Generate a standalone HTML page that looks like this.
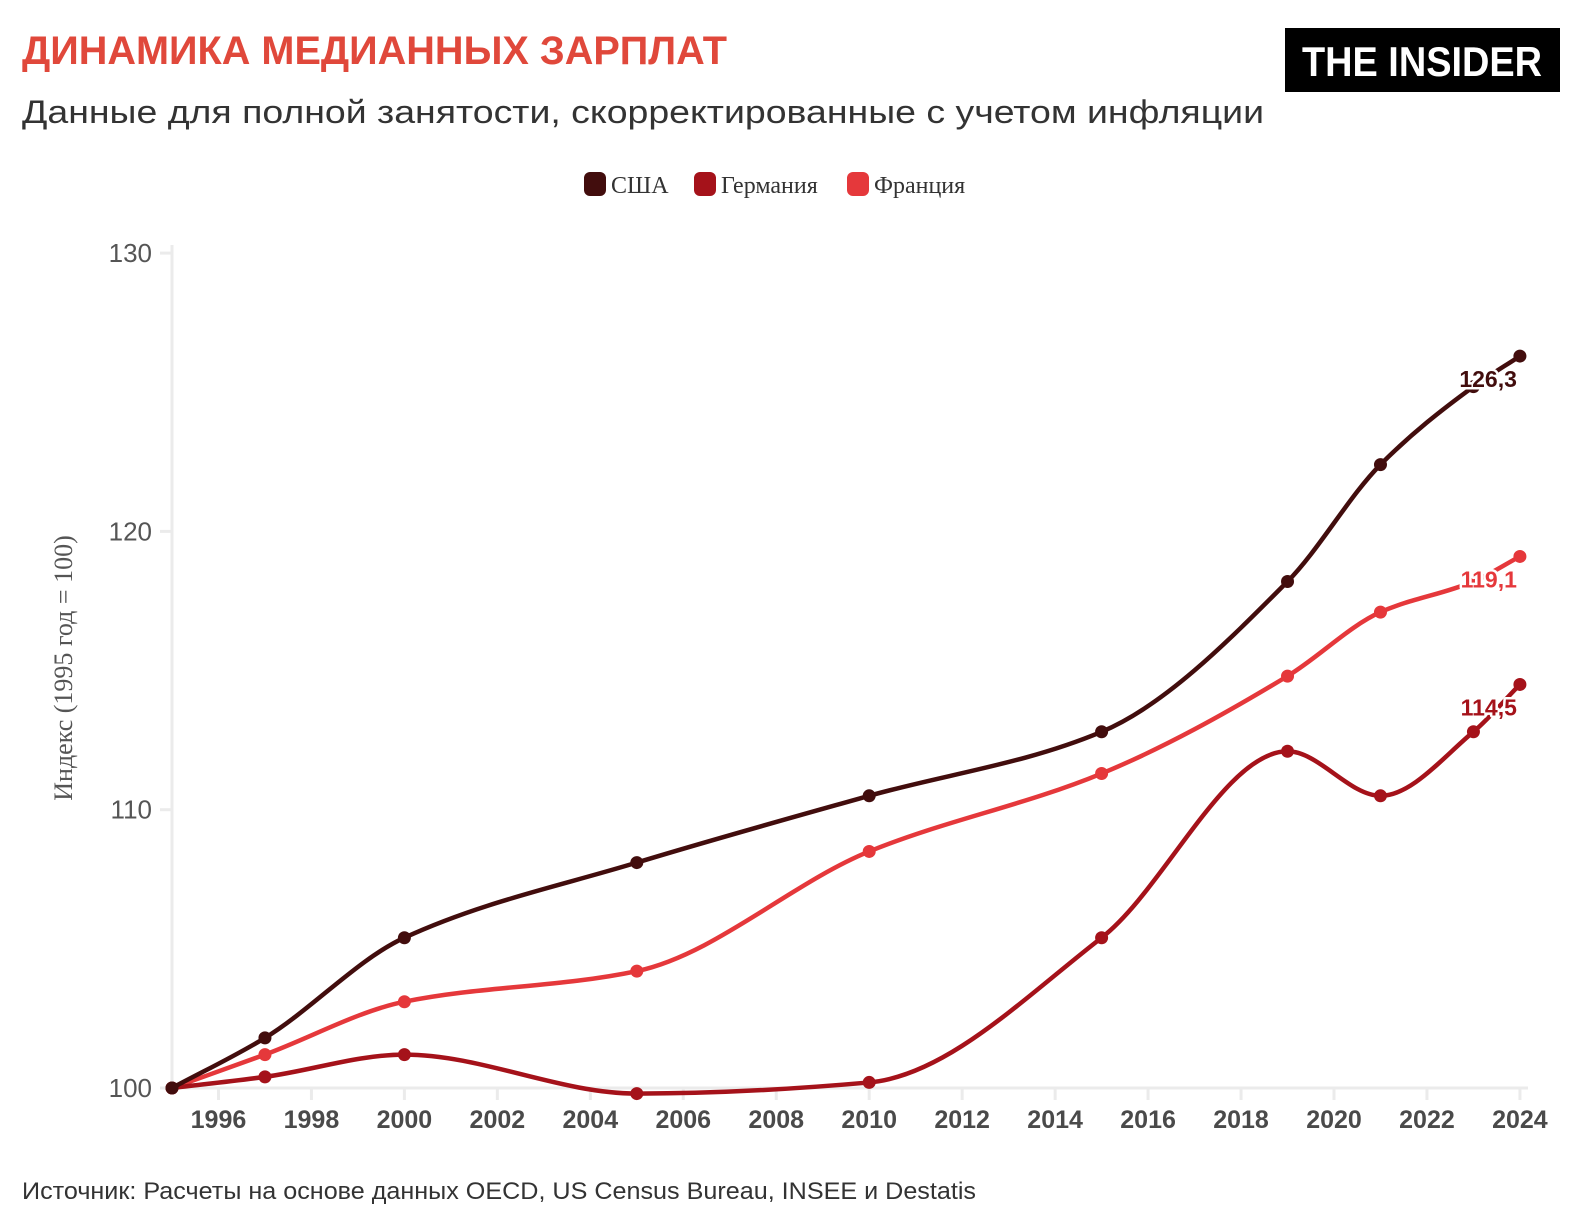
<!DOCTYPE html>
<html><head><meta charset="utf-8"><style>
html,body{margin:0;padding:0;background:#fff;}
svg{display:block;}
.lbl{font-family:"Liberation Sans",sans-serif;font-weight:bold;font-size:23px;paint-order:stroke;stroke:#fff;stroke-width:5px;stroke-linejoin:round;}
</style></head><body>
<svg id="s" width="1588" height="1222" viewBox="0 0 1588 1222" xmlns="http://www.w3.org/2000/svg">
<text x="22" y="64" font-family="Liberation Sans Narrow, Liberation Sans, sans-serif" font-weight="bold" font-size="40" fill="#e0483b" textLength="705" lengthAdjust="spacingAndGlyphs">ДИНАМИКА МЕДИАННЫХ ЗАРПЛАТ</text>
<text x="22" y="123" font-family="Liberation Sans, sans-serif" font-size="32" fill="#333" textLength="1242" lengthAdjust="spacingAndGlyphs">Данные для полной занятости, скорректированные с учетом инфляции</text>
<rect x="1285" y="28" width="275" height="64" fill="#000"/>
<text x="1422" y="76" text-anchor="middle" font-family="Liberation Sans Narrow, Liberation Sans, sans-serif" font-weight="bold" font-size="42" fill="#fff" textLength="240" lengthAdjust="spacingAndGlyphs">THE INSIDER</text>
<rect x="584" y="172" width="22" height="24" rx="6" fill="#420d0d"/>
<text x="611" y="193" font-family="Liberation Serif, serif" font-size="24" fill="#333">США</text>
<rect x="694" y="172" width="22" height="24" rx="6" fill="#a5121a"/>
<text x="721" y="193" font-family="Liberation Serif, serif" font-size="24" fill="#333">Германия</text>
<rect x="847" y="172" width="22" height="24" rx="6" fill="#e5383b"/>
<text x="874" y="193" font-family="Liberation Serif, serif" font-size="24" fill="#333">Франция</text>
<text transform="translate(72,668) rotate(-90)" text-anchor="middle" font-family="Liberation Serif, serif" font-size="26" fill="#555">Индекс (1995 год = 100)</text>
<g id="axes"></g>
<g id="series"></g>
<text x="22" y="1199" font-family="Liberation Sans, sans-serif" font-size="24" fill="#333" textLength="954" lengthAdjust="spacingAndGlyphs">Источник: Расчеты на основе данных OECD, US Census Bureau, INSEE и Destatis</text>
</svg>
<script>
var NS="http://www.w3.org/2000/svg";
function X(y){return 172+(y-1995)*46.48;}
function Y(v){return 1088-(v-100)*27.83;}
function el(t,a,p,txt){var e=document.createElementNS(NS,t);for(var k in a)e.setAttribute(k,a[k]);if(txt)e.textContent=txt;p.appendChild(e);return e;}
var ax=document.getElementById('axes');
el('line',{x1:172,y1:245,x2:172,y2:1088,stroke:'#ebebeb','stroke-width':3},ax);
el('line',{x1:160,y1:1088,x2:1528,y2:1088,stroke:'#ebebeb','stroke-width':3},ax);
[100,110,120,130].forEach(function(v){
 el('line',{x1:160,y1:Y(v),x2:172,y2:Y(v),stroke:'#ebebeb','stroke-width':3},ax);
 el('text',{x:152,y:Y(v)+9,'text-anchor':'end','font-family':'Liberation Sans, sans-serif','font-size':26,fill:'#555'},ax,String(v));
});
for(var yr=1996;yr<=2024;yr+=2){
 el('line',{x1:X(yr),y1:1088,x2:X(yr),y2:1100,stroke:'#ebebeb','stroke-width':3},ax);
 el('text',{x:X(yr),y:1128,'text-anchor':'middle','font-family':'Liberation Sans, sans-serif','font-weight':'bold','font-size':25,fill:'#4a4a4a'},ax,String(yr));
}
var yrs=[1995,1997,2000,2005,2010,2015,2019,2021,2023,2024];
var S=[
 {c:'#e5383b',v:[100,101.2,103.1,104.2,108.5,111.3,114.8,117.1,118.2,119.1],l:'119,1'},
 {c:'#a5121a',v:[100,100.4,101.2,99.8,100.2,105.4,112.1,110.5,112.8,114.5],l:'114,5'},
 {c:'#420d0d',v:[100,101.8,105.4,108.1,110.5,112.8,118.2,122.4,125.2,126.3],l:'126,3'}
];
var g=document.getElementById('series');
S.forEach(function(s){
 var p=yrs.map(function(y,i){return [X(y),Y(s.v[i])];});
 // monotone-x cubic
 var n=p.length,d=[],m=[];
 for(var i=0;i<n-1;i++)d[i]=(p[i+1][1]-p[i][1])/(p[i+1][0]-p[i][0]);
 m[0]=d[0];m[n-1]=d[n-2];
 for(var i=1;i<n-1;i++){ if(d[i-1]*d[i]<=0)m[i]=0; else{var h0=p[i][0]-p[i-1][0],h1=p[i+1][0]-p[i][0];m[i]=3*(h0+h1)/((2*h1+h0)/d[i-1]+(h1+2*h0)/d[i]);}}
 var path='M'+p[0][0]+','+p[0][1];
 for(var i=0;i<n-1;i++){var h=(p[i+1][0]-p[i][0])/3;
  path+=' C'+(p[i][0]+h)+','+(p[i][1]+m[i]*h)+' '+(p[i+1][0]-h)+','+(p[i+1][1]-m[i+1]*h)+' '+p[i+1][0]+','+p[i+1][1];}
 el('path',{d:path,fill:'none',stroke:s.c,'stroke-width':4.5,'stroke-linecap':'round'},g);
 p.forEach(function(q){el('circle',{cx:q[0],cy:q[1],r:6.5,fill:s.c},g);});
 el('text',{x:X(2024)-3,y:p[n-1][1]+31,'text-anchor':'end','class':'lbl',fill:s.c},g,s.l);
});
</script>
</body></html>
